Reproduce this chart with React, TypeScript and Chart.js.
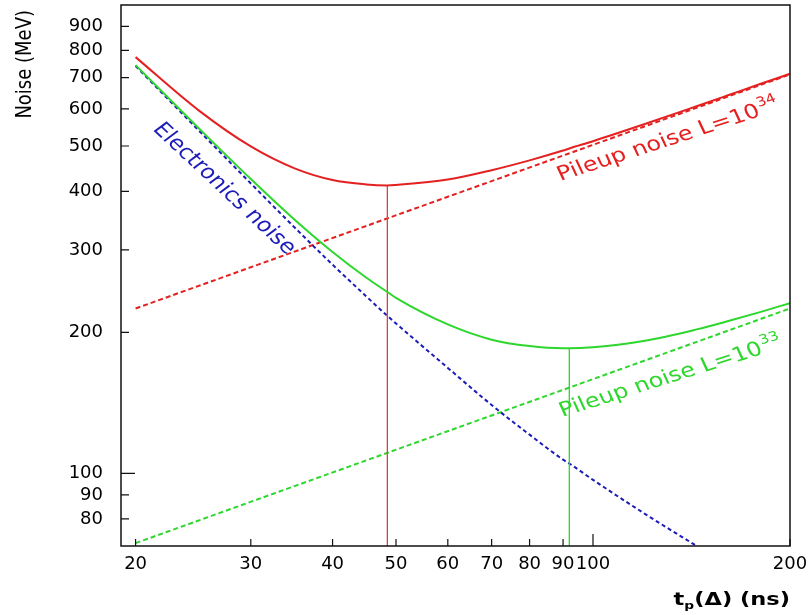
import { useEffect, useRef } from 'react';
import { Chart, registerables } from 'chart.js';

Chart.register(...registerables);

// ---- data (log-log plot) ----
const shapingTimes = [20, 25, 30, 35, 40, 45, 48.5, 50, 60, 70, 80, 90, 92, 100, 120, 144, 160, 180, 200];
const electronicsNoise = [741, 539, 416, 335, 279, 239, 217, 209, 168, 140, 121, 107, 105, 96.9, 82, 70, null, null, null];
const totalNoiseL34 = [774, 595, 499, 448, 423, 414, 412, 413, 424, 444, 466, 489, 494, 512, 557, 608, 640, 678, 713];
const totalNoiseL33 = [744, 545, 425, 348, 297, 262, 244, 237, 208, 193, 187, 185, 185, 186, 192, 203, 211, 221, 231];
const pileupTimes = [20, 200];
const pileupNoiseL34 = [225, 711];
const pileupNoiseL33 = [71, 225];
const optimumTimes = [48.5, 92];
const optimumNoise = [412, 185];
const xTickValues = [20, 30, 40, 50, 60, 70, 80, 90, 100, 200];
const yTickValues = [80, 90, 100, 200, 300, 400, 500, 600, 700, 800, 900];
const xRange = [19, 200];
const yRange = [70, 1000];

const RED = 'rgb(228,32,32)';
const RED_THIN = 'rgb(214,70,60)';
const GREEN = 'rgb(45,215,45)';
const BLUE = 'rgb(28,28,185)';

const curveLabels = [
  { text: 'Electronics noise', sup: '', t: 27.3, noise: 405, angle: 43, color: BLUE, align: 'center' },
  { text: 'Pileup noise L=10', sup: '34', t: 89.2, noise: 421, angle: -18, color: RED, align: 'left' },
  { text: 'Pileup noise L=10', sup: '33', t: 89.8, noise: 132, angle: -17.5, color: GREEN, align: 'left' },
];

const FONT = 'DejaVu Sans';
const STRETCH = 1.2;

const pts = (xs: number[], ys: (number | null)[]) =>
  xs.map((x, i) => ({ x, y: ys[i] })).filter((p) => p.y !== null) as { x: number; y: number }[];

const overlayPlugin = {
  id: 'overlay',
  afterDatasetsDraw(chart: any) {
    const { ctx, chartArea: a, scales } = chart;
    const xs = scales.x;
    const ys = scales.y;
    ctx.save();
    // frame
    ctx.strokeStyle = '#111';
    ctx.lineWidth = 1.5;
    ctx.strokeRect(a.left, a.top, a.right - a.left, a.bottom - a.top);
    // inward tick marks
    ctx.lineWidth = 1.2;
    ctx.beginPath();
    xTickValues.forEach((v) => {
      const px = xs.getPixelForValue(v);
      const len = v === 100 ? 12 : 7;
      ctx.moveTo(px, a.bottom);
      ctx.lineTo(px, a.bottom - len);
    });
    yTickValues.forEach((v) => {
      const py = ys.getPixelForValue(v);
      const len = v === 100 ? 14 : 8;
      ctx.moveTo(a.left, py);
      ctx.lineTo(a.left + len, py);
    });
    ctx.stroke();

    // curve labels
    curveLabels.forEach((l) => {
      const px = xs.getPixelForValue(l.t);
      const py = ys.getPixelForValue(l.noise);
      const vis = (l.angle * Math.PI) / 180;
      const ang = Math.atan(Math.tan(vis) * STRETCH);
      ctx.save();
      ctx.translate(px, py);
      ctx.scale(STRETCH, 1);
      ctx.rotate(ang);
      ctx.fillStyle = l.color;
      ctx.font = `20px "${FONT}"`;
      if (l.align === 'center') {
        ctx.textAlign = 'center';
        ctx.textBaseline = 'middle';
        ctx.fillText(l.text, 0, 0);
      } else {
        ctx.textAlign = 'left';
        ctx.textBaseline = 'alphabetic';
        ctx.fillText(l.text, 0, 0);
        const w = ctx.measureText(l.text).width;
        ctx.font = `13px "${FONT}"`;
        ctx.fillText(l.sup, w + 1, -9);
      }
      ctx.restore();
    });

    // y title
    ctx.save();
    ctx.translate(25, 10);
    ctx.scale(STRETCH, 1);
    ctx.rotate(-Math.PI / 2);
    ctx.fillStyle = '#000';
    ctx.font = `18px "${FONT}"`;
    ctx.textAlign = 'right';
    ctx.textBaseline = 'middle';
    ctx.fillText('Noise (MeV)', 0, 0);
    ctx.restore();

    // x title: t_p(Δ) (ns)
    ctx.save();
    ctx.fillStyle = '#000';
    ctx.textAlign = 'left';
    ctx.textBaseline = 'alphabetic';
    const big = `bold 18px "${FONT}"`;
    const small = `bold 11px "${FONT}"`;
    ctx.font = big;
    const wT = ctx.measureText('t').width;
    const wRest = ctx.measureText('(Δ) (ns)').width;
    ctx.font = small;
    const wP = ctx.measureText('p').width;
    const total = wT + wP + wRest;
    ctx.translate(a.right, 605);
    ctx.scale(1.25, 1);
    let x0 = -total;
    ctx.font = big;
    ctx.fillText('t', x0, 0);
    x0 += wT;
    ctx.font = small;
    ctx.fillText('p', x0, 4);
    x0 += wP;
    ctx.font = big;
    ctx.fillText('(Δ) (ns)', x0, 0);
    ctx.restore();

    ctx.restore();
  },
};

export default function App() {
  const ref = useRef<HTMLCanvasElement | null>(null);
  useEffect(() => {
    if (!ref.current) return;
    const solid = { pointRadius: 0, borderWidth: 2, fill: false, cubicInterpolationMode: 'monotone' as const };
    const dashed = { pointRadius: 0, borderWidth: 2, fill: false };
    const chart = new Chart(ref.current, {
      type: 'line',
      data: {
        datasets: [
          { ...solid, label: 'Total L=10^33', data: pts(shapingTimes, totalNoiseL33), borderColor: GREEN },
          { ...solid, label: 'Total L=10^34', data: pts(shapingTimes, totalNoiseL34), borderColor: RED },
          {
            pointRadius: 0, borderWidth: 1.3, label: 'Optimum L=10^34', borderColor: RED_THIN,
            data: [{ x: optimumTimes[0], y: yRange[0] }, { x: optimumTimes[0], y: optimumNoise[0] }],
          },
          {
            pointRadius: 0, borderWidth: 1.3, label: 'Optimum L=10^33', borderColor: GREEN,
            data: [{ x: optimumTimes[1], y: yRange[0] }, { x: optimumTimes[1], y: optimumNoise[1] }],
          },
          {
            ...dashed, label: 'Electronics noise', data: pts(shapingTimes, electronicsNoise),
            borderColor: BLUE, borderDash: [4, 3], cubicInterpolationMode: 'monotone' as const,
          },
          { ...dashed, label: 'Pileup L=10^34', data: pts(pileupTimes, pileupNoiseL34), borderColor: RED, borderDash: [5, 3] },
          { ...dashed, label: 'Pileup L=10^33', data: pts(pileupTimes, pileupNoiseL33), borderColor: GREEN, borderDash: [5, 3] },
        ],
      },
      options: {
        animation: false,
        responsive: true,
        maintainAspectRatio: false,
        parsing: false as any,
        layout: { padding: { left: 0, top: 5, right: 19, bottom: 0 } },
        plugins: { legend: { display: false }, tooltip: { enabled: false }, title: { display: false } },
        scales: {
          x: {
            type: 'logarithmic',
            min: xRange[0],
            max: xRange[1],
            grid: { display: false, drawTicks: false },
            border: { display: false },
            afterBuildTicks: (s: any) => {
              s.ticks = xTickValues.map((v) => ({ value: v }));
            },
            afterFit: (s: any) => {
              s.height = 69;
              s.paddingLeft = 0;
              s.paddingRight = 0;
              s.paddingTop = 0;
              s.paddingBottom = 0;
            },
            ticks: {
              autoSkip: false,
              maxRotation: 0,
              minRotation: 0,
              padding: 8,
              color: '#000',
              font: { family: FONT, size: 18 },
              callback: (v: any) => String(v),
            },
          },
          y: {
            type: 'logarithmic',
            min: yRange[0],
            max: yRange[1],
            grid: { display: false, drawTicks: false },
            border: { display: false },
            afterBuildTicks: (s: any) => {
              s.ticks = yTickValues.map((v) => ({ value: v }));
            },
            afterFit: (s: any) => {
              s.width = 121;
              s.paddingLeft = 0;
              s.paddingRight = 0;
              s.paddingTop = 0;
              s.paddingBottom = 0;
            },
            ticks: {
              autoSkip: false,
              padding: 18,
              color: '#000',
              font: { family: FONT, size: 18 },
              callback: (v: any) => String(v),
            },
          },
        },
      },
      plugins: [overlayPlugin],
    } as any);
    return () => chart.destroy();
  }, []);

  return (
    <div style={{ position: 'fixed', left: 0, top: 0, width: 809, height: 615, background: '#fff' }}>
      <canvas ref={ref} />
    </div>
  );
}
